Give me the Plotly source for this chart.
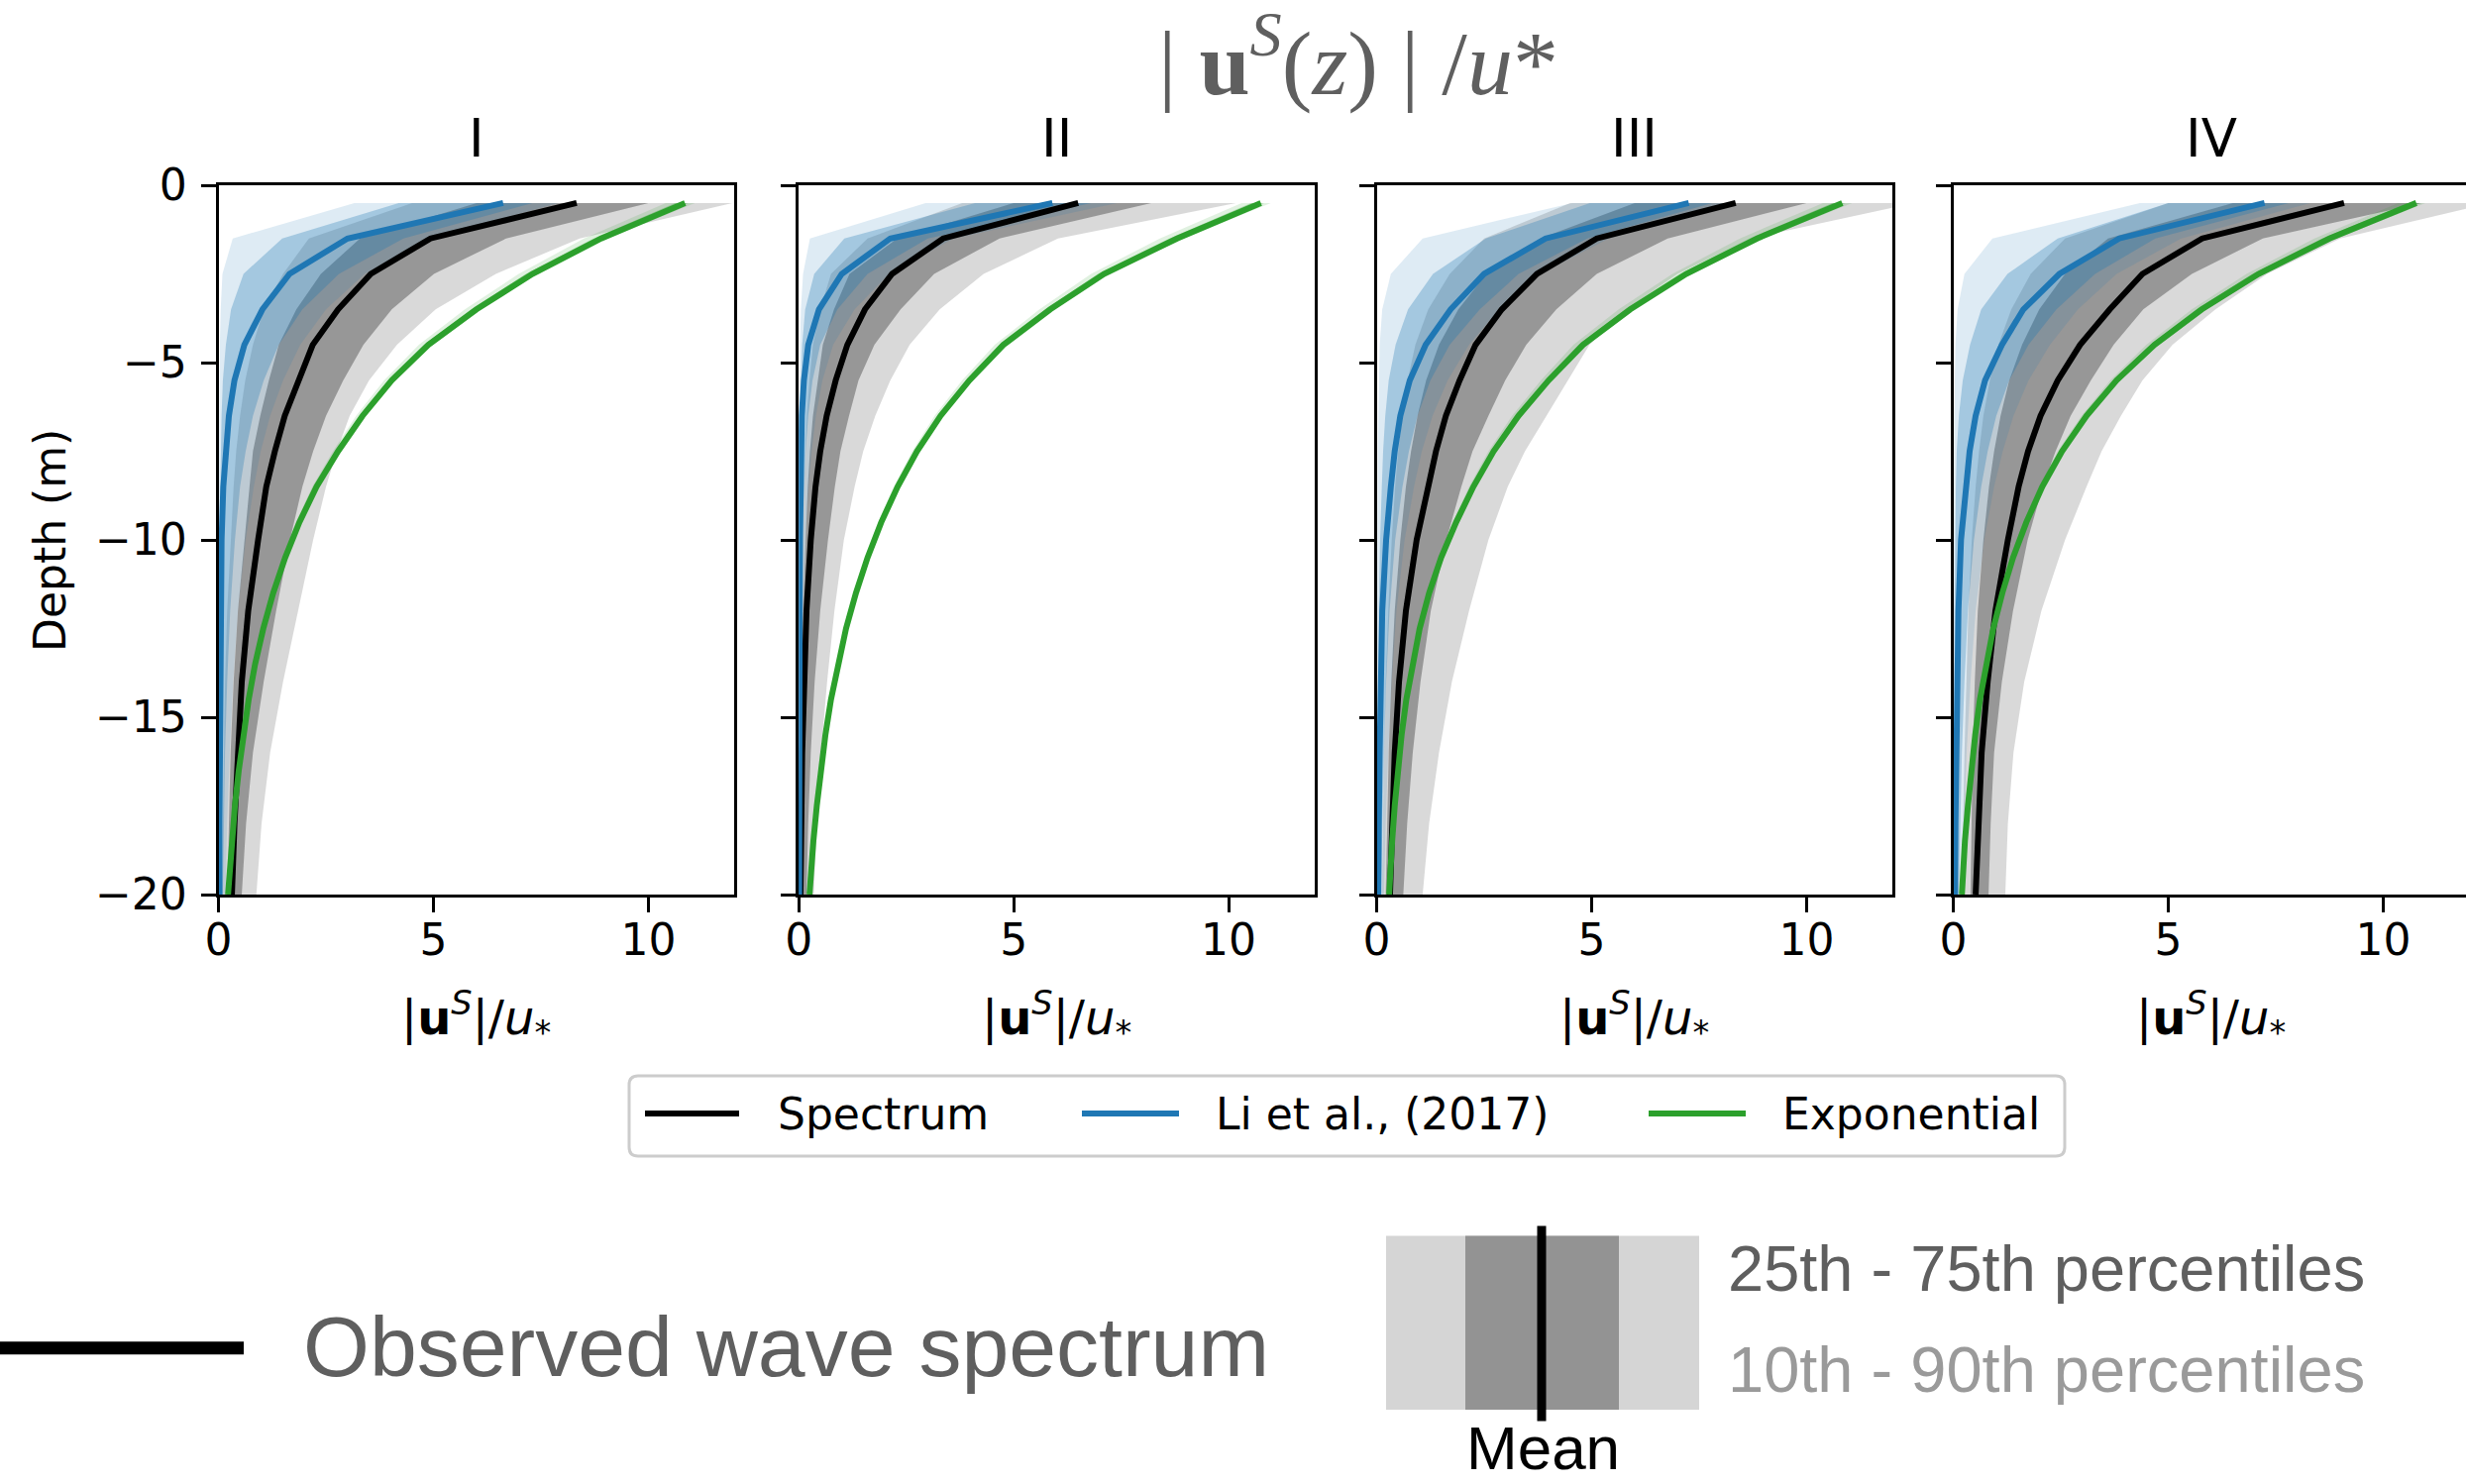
import plotly.graph_objects as go

# ---------------- data ----------------
DEPTH = [-0.5, -1.5, -2.5, -3.5, -4.5, -5.5, -6.5, -7.5, -8.5, -10, -12, -14, -16, -18, -20]
EXP_DEPTH = [-0.5, -1.5, -2.5, -3.5, -4.5, -5.5, -6.5, -7.5, -8.5, -9.5, -10.5,
             -11.5, -12.5, -13.5, -14.5, -15.5, -16.5, -17.5, -18.5, -19.5, -20]
PANELS = ["I", "II", "III", "IV"]
X_TICKS = [0, 5, 10]
Y_TICKS = [0, -5, -10, -15, -20]
Y_TICK_TEXT = ["0", "\u22125", "\u221210", "\u221215", "\u221220"]

# Spectrum (observed wave spectrum): mean and percentiles, one row per panel
SPEC_MEAN = [
    [8.33, 4.93, 3.54, 2.78, 2.19, 1.86, 1.54, 1.31, 1.11, 0.92, 0.69, 0.54, 0.44, 0.37, 0.31],
    [6.5, 3.36, 2.17, 1.54, 1.13, 0.86, 0.65, 0.5, 0.39, 0.28, 0.18, 0.12, 0.08, 0.06, 0.04],
    [8.35, 5.12, 3.73, 2.91, 2.3, 1.93, 1.61, 1.38, 1.2, 0.93, 0.68, 0.52, 0.42, 0.36, 0.31],
    [9.09, 5.79, 4.4, 3.64, 2.95, 2.43, 2.03, 1.74, 1.52, 1.27, 0.98, 0.8, 0.66, 0.58, 0.52],
]
SPEC_P10 = [
    [4.5, 2.1, 1.5, 1.05, 0.8, 0.62, 0.5, 0.41, 0.35, 0.28, 0.2, 0.15, 0.12, 0.1, 0.08],
    [3.8, 1.6, 0.75, 0.5, 0.33, 0.25, 0.19, 0.15, 0.12, 0.09, 0.06, 0.04, 0.03, 0.02, 0.02],
    [4.5, 2.5, 1.7, 1.2, 0.9, 0.72, 0.6, 0.5, 0.43, 0.35, 0.27, 0.21, 0.17, 0.14, 0.12],
    [5.0, 2.6, 1.8, 1.35, 1.05, 0.85, 0.7, 0.6, 0.52, 0.43, 0.35, 0.3, 0.26, 0.23, 0.21],
]
SPEC_P25 = [
    [6.0, 3.29, 2.38, 1.81, 1.4, 1.17, 0.97, 0.8, 0.72, 0.6, 0.45, 0.35, 0.28, 0.24, 0.21],
    [5.0, 2.29, 1.18, 0.82, 0.56, 0.44, 0.33, 0.26, 0.21, 0.16, 0.1, 0.07, 0.05, 0.04, 0.03],
    [6.0, 3.8, 2.55, 1.9, 1.45, 1.15, 0.95, 0.8, 0.68, 0.55, 0.42, 0.34, 0.28, 0.24, 0.21],
    [6.5, 3.6, 2.6, 2.0, 1.6, 1.3, 1.1, 0.95, 0.83, 0.7, 0.57, 0.5, 0.45, 0.42, 0.4],
]
SPEC_P75 = [
    [10.0, 6.69, 5.01, 4.03, 3.37, 2.9, 2.5, 2.2, 1.95, 1.66, 1.34, 1.05, 0.8, 0.64, 0.54],
    [8.2, 4.67, 3.15, 2.37, 1.76, 1.39, 1.17, 0.97, 0.84, 0.68, 0.5, 0.37, 0.28, 0.22, 0.18],
    [10.0, 6.77, 5.12, 4.18, 3.48, 2.99, 2.6, 2.23, 1.97, 1.62, 1.26, 1.02, 0.84, 0.71, 0.62],
    [10.9, 7.2, 5.55, 4.42, 3.73, 3.2, 2.73, 2.38, 2.08, 1.73, 1.39, 1.13, 0.95, 0.87, 0.82],
]
SPEC_P90 = [
    [11.95, 8.4, 6.45, 5.05, 4.15, 3.5, 3.05, 2.75, 2.5, 2.2, 1.85, 1.5, 1.2, 1.0, 0.88],
    [10.17, 6.03, 4.3, 3.28, 2.58, 2.13, 1.78, 1.5, 1.3, 1.05, 0.83, 0.66, 0.52, 0.42, 0.35],
    [12.5, 8.7, 7.0, 5.8, 4.95, 4.45, 3.95, 3.45, 3.05, 2.6, 2.15, 1.75, 1.45, 1.22, 1.07],
    [12.5, 9.0, 7.3, 6.1, 5.1, 4.4, 3.9, 3.45, 3.1, 2.6, 2.05, 1.65, 1.4, 1.27, 1.21],
]

# Li et al. (2017)
LI_MEAN = [
    [6.62, 3.0, 1.65, 1.02, 0.6, 0.37, 0.24, 0.16, 0.11, 0.07, 0.05, 0.04, 0.03, 0.02, 0.02],
    [5.9, 2.13, 1.0, 0.47, 0.22, 0.12, 0.07, 0.05, 0.04, 0.03, 0.02, 0.02, 0.01, 0.01, 0.01],
    [7.26, 3.93, 2.5, 1.72, 1.14, 0.77, 0.55, 0.42, 0.33, 0.22, 0.13, 0.09, 0.07, 0.05, 0.04],
    [7.24, 3.86, 2.47, 1.63, 1.13, 0.74, 0.52, 0.38, 0.3, 0.18, 0.12, 0.09, 0.07, 0.05, 0.04],
]
LI_P10 = [
    [3.16, 0.33, 0.09, 0.05, 0.03, 0.02, 0.02, 0.01, 0.01, 0.01, 0.01, 0.0, 0.0, 0.0, 0.0],
    [2.95, 0.26, 0.1, 0.05, 0.03, 0.02, 0.01, 0.01, 0.01, 0.01, 0.0, 0.0, 0.0, 0.0, 0.0],
    [4.55, 1.07, 0.33, 0.13, 0.07, 0.05, 0.04, 0.03, 0.02, 0.02, 0.01, 0.01, 0.01, 0.0, 0.0],
    [4.34, 0.91, 0.26, 0.1, 0.05, 0.03, 0.02, 0.02, 0.01, 0.01, 0.01, 0.0, 0.0, 0.0, 0.0],
]
LI_P25 = [
    [4.19, 1.48, 0.58, 0.29, 0.17, 0.1, 0.07, 0.05, 0.04, 0.03, 0.02, 0.01, 0.01, 0.01, 0.01],
    [4.1, 1.06, 0.36, 0.15, 0.08, 0.05, 0.03, 0.02, 0.02, 0.01, 0.01, 0.01, 0.0, 0.0, 0.0],
    [4.96, 2.54, 1.31, 0.73, 0.44, 0.28, 0.2, 0.15, 0.12, 0.08, 0.05, 0.04, 0.03, 0.02, 0.02],
    [5.0, 2.43, 1.26, 0.65, 0.39, 0.22, 0.13, 0.08, 0.06, 0.04, 0.03, 0.02, 0.02, 0.01, 0.01],
]
LI_P75 = [
    [7.3, 4.3, 2.8, 1.95, 1.4, 1.05, 0.8, 0.63, 0.5, 0.38, 0.27, 0.2, 0.15, 0.12, 0.1],
    [6.8, 3.0, 1.6, 0.9, 0.5, 0.32, 0.22, 0.16, 0.12, 0.08, 0.05, 0.04, 0.03, 0.02, 0.02],
    [7.8, 4.9, 3.3, 2.4, 1.7, 1.25, 0.95, 0.75, 0.6, 0.43, 0.3, 0.22, 0.17, 0.13, 0.1],
    [7.8, 4.7, 3.3, 2.4, 1.75, 1.3, 1.0, 0.8, 0.65, 0.48, 0.34, 0.26, 0.2, 0.16, 0.13],
]
LI_P90 = [
    [7.9, 4.9, 3.4, 2.5, 1.9, 1.5, 1.2, 0.98, 0.82, 0.63, 0.45, 0.34, 0.26, 0.2, 0.16],
    [7.4, 3.6, 2.1, 1.3, 0.8, 0.55, 0.4, 0.3, 0.23, 0.16, 0.1, 0.07, 0.05, 0.04, 0.03],
    [8.3, 5.4, 3.8, 2.85, 2.15, 1.65, 1.3, 1.05, 0.87, 0.65, 0.46, 0.35, 0.27, 0.21, 0.17],
    [8.3, 5.3, 3.8, 2.9, 2.25, 1.75, 1.4, 1.15, 0.95, 0.72, 0.52, 0.4, 0.31, 0.25, 0.2],
]

# Exponential profile (on EXP_DEPTH)
EXP_MEAN = [
    [10.85, 8.9, 7.3, 6.0, 4.88, 4.03, 3.35, 2.78, 2.28, 1.88, 1.55, 1.27, 1.04, 0.85, 0.7, 0.57, 0.47, 0.38, 0.31, 0.25, 0.22],
    [10.75, 8.8, 7.1, 5.85, 4.76, 3.97, 3.3, 2.75, 2.3, 1.92, 1.6, 1.33, 1.1, 0.91, 0.75, 0.62, 0.51, 0.42, 0.34, 0.28, 0.25],
    [10.83, 8.85, 7.2, 5.9, 4.8, 4.0, 3.3, 2.72, 2.25, 1.85, 1.5, 1.22, 1.0, 0.83, 0.69, 0.58, 0.49, 0.42, 0.36, 0.31, 0.29],
    [10.77, 8.75, 7.1, 5.78, 4.68, 3.8, 3.1, 2.53, 2.07, 1.7, 1.39, 1.14, 0.93, 0.76, 0.62, 0.51, 0.41, 0.34, 0.27, 0.22, 0.2],
]
EXP_P10 = [
    [10.4, 8.5, 6.98, 5.73, 4.66, 3.85, 3.2, 2.66, 2.18, 1.8, 1.49, 1.22, 1.0, 0.82, 0.68, 0.55, 0.46, 0.37, 0.3, 0.24, 0.21],
    [10.3, 8.4, 6.8, 5.6, 4.56, 3.8, 3.16, 2.64, 2.21, 1.85, 1.54, 1.28, 1.06, 0.88, 0.73, 0.6, 0.5, 0.41, 0.33, 0.27, 0.24],
    [10.38, 8.45, 6.88, 5.63, 4.58, 3.82, 3.15, 2.6, 2.15, 1.77, 1.44, 1.17, 0.96, 0.8, 0.67, 0.56, 0.47, 0.41, 0.35, 0.3, 0.28],
    [10.35, 8.4, 6.82, 5.55, 4.49, 3.65, 2.98, 2.43, 1.99, 1.63, 1.33, 1.09, 0.89, 0.73, 0.6, 0.49, 0.39, 0.33, 0.26, 0.21, 0.19],
]
EXP_P25 = [
    [10.62, 8.72, 7.15, 5.88, 4.78, 3.95, 3.28, 2.72, 2.23, 1.84, 1.52, 1.25, 1.02, 0.84, 0.69, 0.56, 0.46, 0.37, 0.3, 0.25, 0.22],
    [10.52, 8.62, 6.96, 5.74, 4.67, 3.9, 3.24, 2.7, 2.26, 1.89, 1.57, 1.31, 1.08, 0.9, 0.74, 0.61, 0.5, 0.41, 0.34, 0.28, 0.25],
    [10.6, 8.67, 7.05, 5.78, 4.7, 3.92, 3.23, 2.66, 2.2, 1.81, 1.47, 1.2, 0.98, 0.82, 0.68, 0.57, 0.48, 0.41, 0.35, 0.31, 0.29],
    [10.56, 8.58, 6.96, 5.66, 4.59, 3.72, 3.04, 2.48, 2.03, 1.67, 1.36, 1.12, 0.91, 0.74, 0.61, 0.5, 0.4, 0.33, 0.26, 0.22, 0.2],
]
EXP_P75 = [
    [10.92, 8.95, 7.34, 6.03, 4.9, 4.05, 3.37, 2.79, 2.29, 1.89, 1.56, 1.28, 1.05, 0.86, 0.71, 0.58, 0.47, 0.38, 0.31, 0.25, 0.22],
    [10.82, 8.85, 7.14, 5.88, 4.78, 3.99, 3.32, 2.76, 2.31, 1.93, 1.61, 1.34, 1.11, 0.92, 0.76, 0.62, 0.51, 0.42, 0.34, 0.28, 0.25],
    [10.9, 8.9, 7.24, 5.93, 4.83, 4.02, 3.32, 2.74, 2.26, 1.86, 1.51, 1.23, 1.01, 0.84, 0.7, 0.59, 0.49, 0.42, 0.36, 0.31, 0.29],
    [10.85, 8.8, 7.14, 5.81, 4.7, 3.82, 3.12, 2.54, 2.08, 1.71, 1.4, 1.15, 0.94, 0.76, 0.62, 0.51, 0.41, 0.34, 0.27, 0.22, 0.2],
]
EXP_P90 = [
    [11.08, 9.05, 7.42, 6.1, 4.96, 4.1, 3.41, 2.83, 2.32, 1.91, 1.58, 1.29, 1.06, 0.87, 0.72, 0.59, 0.48, 0.39, 0.32, 0.26, 0.23],
    [10.98, 8.95, 7.22, 5.95, 4.84, 4.04, 3.36, 2.8, 2.34, 1.95, 1.63, 1.35, 1.12, 0.93, 0.77, 0.63, 0.52, 0.43, 0.35, 0.29, 0.26],
    [11.06, 9.0, 7.32, 6.0, 4.88, 4.07, 3.36, 2.77, 2.29, 1.88, 1.53, 1.24, 1.02, 0.85, 0.71, 0.6, 0.5, 0.43, 0.37, 0.32, 0.3],
    [10.98, 8.92, 7.24, 5.9, 4.77, 3.88, 3.16, 2.58, 2.11, 1.73, 1.42, 1.16, 0.95, 0.78, 0.63, 0.52, 0.42, 0.35, 0.28, 0.23, 0.21],
]

MODEL_NAMES = ["Spectrum", "Li et al., (2017)", "Exponential"]

# ---------------- styling / layout ----------------
W, H = 2489, 1498
X_LEFT = [220.6, 806.2, 1389.5, 1971.5]
PANEL_W = 520.7
Y_TOP, Y_BOT = 187.0, 903.0
XMAX = 12.0

BLACK = "#000000"
BLUE = "#1f77b4"
GREEN = "#2ca02c"
TXT_GRAY = "#5f5f5f"
SANS = "DejaVu Sans"
ARIAL = "Liberation Sans"
SERIF = "Liberation Serif"


def px(x):
    return x / W


def py(y):
    return 1 - y / H


def rgba(hexcol, a):
    h = hexcol.lstrip("#")
    r, g, b = int(h[0:2], 16), int(h[2:4], 16), int(h[4:6], 16)
    return f"rgba({r},{g},{b},{a})"


fig = go.Figure()

models = [
    (DEPTH, SPEC_MEAN, SPEC_P10, SPEC_P25, SPEC_P75, SPEC_P90, BLACK, MODEL_NAMES[0]),
    (DEPTH, LI_MEAN, LI_P10, LI_P25, LI_P75, LI_P90, BLUE, MODEL_NAMES[1]),
    (EXP_DEPTH, EXP_MEAN, EXP_P10, EXP_P25, EXP_P75, EXP_P90, GREEN, MODEL_NAMES[2]),
]

for i in range(4):
    xa = "x" if i == 0 else f"x{i+1}"
    ya = "y" if i == 0 else f"y{i+1}"
    # percentile bands first
    for z, mean, p10, p25, p75, p90, col, name in models:
        for lo, hi, a in ((p10, p90, 0.15), (p25, p75, 0.3)):
            fig.add_trace(go.Scatter(
                x=list(lo[i]) + list(hi[i])[::-1],
                y=list(z) + list(z)[::-1],
                xaxis=xa, yaxis=ya, mode="lines", fill="toself",
                fillcolor=rgba(col, a), line=dict(width=0),
                hoverinfo="skip", showlegend=False,
            ))
    # mean lines on top
    for z, mean, p10, p25, p75, p90, col, name in models:
        fig.add_trace(go.Scatter(
            x=mean[i], y=z, xaxis=xa, yaxis=ya, mode="lines",
            line=dict(color=col, width=6), name=name, showlegend=False,
        ))

layout = dict(
    width=W, height=H,
    margin=dict(l=0, r=0, t=0, b=0, pad=0, autoexpand=False),
    paper_bgcolor="white", plot_bgcolor="white",
    showlegend=False,
)

for i in range(4):
    x0 = X_LEFT[i]
    x1 = min(x0 + PANEL_W, W)
    xmax = XMAX * (x1 - x0) / PANEL_W
    sx = "" if i == 0 else str(i + 1)
    layout["xaxis" + sx] = dict(
        domain=[px(x0), px(x1)], range=[0, xmax], anchor="y" + sx,
        tickvals=X_TICKS, ticktext=[str(v) for v in X_TICKS],
        ticks="outside", ticklen=15, tickwidth=3, tickcolor="black",
        showline=True, linewidth=3, linecolor="black", mirror=True,
        showgrid=False, zeroline=False, automargin=False,
        tickfont=dict(family=SANS, size=44, color="black"),
        ticklabelstandoff=-10,
    )
    layout["yaxis" + sx] = dict(
        domain=[py(Y_BOT), py(Y_TOP)], range=[-20, 0], anchor="x" + sx,
        tickvals=Y_TICKS, ticktext=Y_TICK_TEXT, showticklabels=(i == 0),
        ticks="outside", ticklen=15, tickwidth=3, tickcolor="black",
        showline=True, linewidth=3, linecolor="black", mirror=(i < 3),
        showgrid=False, zeroline=False, automargin=False,
        tickfont=dict(family=SANS, size=44, color="black"),
        ticklabelstandoff=5,
    )

annotations = []
# main title
annotations.append(dict(
    x=px(1371), y=py(57), xref="paper", yref="paper", xanchor="center", yanchor="middle",
    text="| <b>u</b><sup><i>S</i></sup>(<i>z</i>) | /<i>u</i>*", showarrow=False,
    font=dict(family=SERIF, size=92, color=TXT_GRAY),
))
for i, name in enumerate(PANELS):
    cx = X_LEFT[i] + PANEL_W / 2
    annotations.append(dict(
        x=px(cx), y=py(139.5), xref="paper", yref="paper", xanchor="center", yanchor="middle",
        text=name, showarrow=False, font=dict(family=SANS, size=53, color="black"),
    ))
    annotations.append(dict(
        x=px(cx), y=py(1027), xref="paper", yref="paper", xanchor="center", yanchor="middle",
        text="|<b>u</b><sup><i>S</i></sup>|/<i>u</i><sub>*</sub>", showarrow=False,
        font=dict(family=SANS, size=48, color="black"),
    ))
annotations.append(dict(
    x=px(51), y=py(545), xref="paper", yref="paper", xanchor="center", yanchor="middle",
    text="Depth (m)", textangle=-90, showarrow=False,
    font=dict(family=SANS, size=44, color="black"),
))

# manual legend (box, line samples, labels)
LEG_BOX = (635, 1086, 2084, 1167)
LEG_Y = 1124
LEG_LINES = [(651, 746), (1092, 1190), (1664, 1762)]
LEG_TEXT_X = [783, 1225, 1797]
LEG_COLORS = [BLACK, BLUE, GREEN]

shapes = []


def rrect_path(x0, y0, x1, y1, r):
    pts = [
        ("M", (x0 + r, y0)), ("L", (x1 - r, y0)), ("Q", (x1, y0, x1, y0 + r)),
        ("L", (x1, y1 - r)), ("Q", (x1, y1, x1 - r, y1)), ("L", (x0 + r, y1)),
        ("Q", (x0, y1, x0, y1 - r)), ("L", (x0, y0 + r)), ("Q", (x0, y0, x0 + r, y0)),
    ]
    s = ""
    for cmd, c in pts:
        coords = []
        for k in range(0, len(c), 2):
            coords.append(f"{px(c[k]):.6f},{py(c[k+1]):.6f}")
        s += cmd + " " + " ".join(coords) + " "
    return s + "Z"


shapes.append(dict(type="path", xref="paper", yref="paper",
                   path=rrect_path(*LEG_BOX, 9), fillcolor="white",
                   line=dict(color="#cccccc", width=3)))
for (a, b), col, name, tx in zip(LEG_LINES, LEG_COLORS, MODEL_NAMES, LEG_TEXT_X):
    shapes.append(dict(type="line", xref="paper", yref="paper",
                       x0=px(a), x1=px(b), y0=py(LEG_Y), y1=py(LEG_Y),
                       line=dict(color=col, width=6)))
    annotations.append(dict(
        x=px(tx), y=py(LEG_Y), xref="paper", yref="paper", xanchor="left", yanchor="middle",
        text=name, showarrow=False, font=dict(family=SANS, size=44, color="black"),
    ))

# bottom explanatory key
shapes.append(dict(type="line", xref="paper", yref="paper",
                   x0=px(0), x1=px(246), y0=py(1360.7), y1=py(1360.7),
                   line=dict(color="black", width=13)))
annotations.append(dict(
    x=px(304), y=py(1359), xref="paper", yref="paper", xanchor="left", yanchor="middle",
    text="Observed wave spectrum", showarrow=False,
    font=dict(family=ARIAL, size=86, color=TXT_GRAY),
))
shapes.append(dict(type="rect", xref="paper", yref="paper",
                   x0=px(1399), x1=px(1715), y0=py(1423), y1=py(1247.6),
                   fillcolor="#d5d5d5", line=dict(width=0)))
shapes.append(dict(type="rect", xref="paper", yref="paper",
                   x0=px(1479), x1=px(1634), y0=py(1423), y1=py(1247.6),
                   fillcolor="#939393", line=dict(width=0)))
shapes.append(dict(type="line", xref="paper", yref="paper",
                   x0=px(1556), x1=px(1556), y0=py(1434.5), y1=py(1237.5),
                   line=dict(color="black", width=9)))
annotations.append(dict(
    x=px(1557), y=py(1461), xref="paper", yref="paper", xanchor="center", yanchor="middle",
    text="Mean", showarrow=False, font=dict(family=ARIAL, size=62, color="black"),
))
annotations.append(dict(
    x=px(1742), y=py(1280), xref="paper", yref="paper", xanchor="left", yanchor="middle",
    text="25th - 75th percentiles", showarrow=False,
    font=dict(family=ARIAL, size=65, color=TXT_GRAY),
))
annotations.append(dict(
    x=px(1742), y=py(1382), xref="paper", yref="paper", xanchor="left", yanchor="middle",
    text="10th - 90th percentiles", showarrow=False,
    font=dict(family=ARIAL, size=65, color="#9a9a9a"),
))

layout["annotations"] = annotations
layout["shapes"] = shapes
fig.update_layout(**layout)

fig.write_html("out.html")
